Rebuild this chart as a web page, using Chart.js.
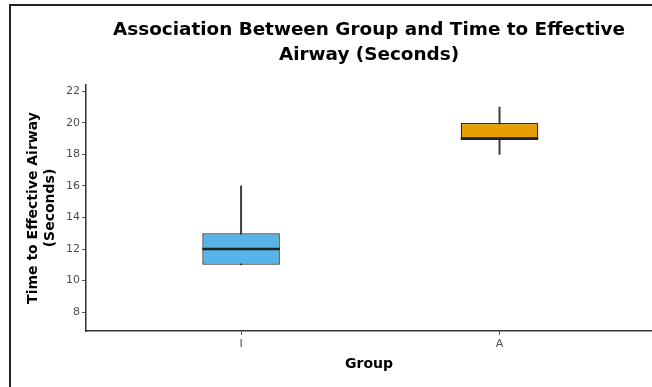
<!DOCTYPE html>
<html>
<head>
<meta charset="utf-8">
<script src="https://cdn.jsdelivr.net/npm/chart.js@4/dist/chart.umd.min.js"></script>
<style>
html,body{margin:0;padding:0;background:#fff;width:652px;height:387px;overflow:hidden;}
#frameTop{position:absolute;left:9px;top:4px;width:643px;height:2px;background:#222;}
#frameLeft{position:absolute;left:9px;top:4px;width:2px;height:383px;background:#222;}
#wrap{position:absolute;left:0;top:0;width:652px;height:387px;}
</style>
</head>
<body>
<div id="frameTop"></div>
<div id="frameLeft"></div>
<div id="wrap"><canvas id="c" width="652" height="387"></canvas></div>
<script>
// ---- data ----
const categories = ['I', 'A'];
const whiskerLow = [11, 18];
const q1 = [11, 19];
const medians = [12, 19];
const q3 = [13, 20];
const whiskerHigh = [16, 21];
const yTicks = [8, 10, 12, 14, 16, 18, 20, 22];

const xPos = categories.map((c, i) => i + 1);

const medianPlugin = {
  id: 'medianLines',
  afterDatasetsDraw(chart) {
    const meta = chart.getDatasetMeta(0);
    const y = chart.scales.y;
    const ctx = chart.ctx;
    ctx.save();
    ctx.strokeStyle = '#222';
    ctx.lineWidth = 2.6;
    meta.data.forEach((el, i) => {
      const py = y.getPixelForValue(medians[i]);
      const half = el.width / 2;
      ctx.beginPath();
      ctx.moveTo(el.x - half, py);
      ctx.lineTo(el.x + half, py);
      ctx.stroke();
    });
    ctx.restore();
  }
};

new Chart(document.getElementById('c'), {
  type: 'bar',
  data: {
    datasets: [
      {
        label: 'box',
        data: xPos.map((x, i) => ({ x: x, y: [q1[i], q3[i]] })),
        backgroundColor: ['#56B4E9', '#E69F00'],
        borderColor: '#2a2a2a',
        borderWidth: 1.3,
        borderSkipped: false,
        barPercentage: 0.3,
        categoryPercentage: 1,
        order: 0
      },
      {
        label: 'whisker',
        data: xPos.map((x, i) => ({ x: x, y: [whiskerLow[i], whiskerHigh[i]] })),
        backgroundColor: '#3a3a3a',
        borderWidth: 0,
        barThickness: 1.3,
        order: 1
      }
    ]
  },
  options: {
    responsive: false,
    animation: false,
    devicePixelRatio: 1,
    datasets: { bar: { grouped: false } },
    layout: { padding: { left: 25, right: 0, top: 8, bottom: 14 } },
    plugins: {
      legend: { display: false },
      tooltip: { enabled: false },
      title: {
        display: true,
        fullSize: false,
        text: ['Association Between Group and Time to Effective', 'Airway (Seconds)'],
        color: '#000',
        font: { family: 'DejaVu Sans', size: 18.4, weight: 'bold', lineHeight: 1.36 },
        padding: { top: 9.5, bottom: 17.5 }
      }
    },
    scales: {
      x: {
        type: 'linear',
        min: 0.4,
        max: 2.59,
        offset: false,
        grid: { display: true, offset: false, drawOnChartArea: false, drawTicks: true, tickLength: 4, tickColor: '#555', lineWidth: 1 },
        border: { display: true, color: '#333', width: 1.5 },
        afterBuildTicks(scale) { scale.ticks = xPos.map(v => ({ value: v })); },
        ticks: {
          callback: (v) => categories[v - 1] || '',
          color: '#4D4D4D',
          font: { family: 'DejaVu Sans', size: 11 },
          padding: 3,
          maxRotation: 0
        },
        title: {
          display: true,
          text: 'Group',
          color: '#000',
          font: { family: 'DejaVu Sans', size: 14, weight: 'bold' },
          padding: { top: 2, bottom: 0 }
        }
      },
      y: {
        min: 6.8,
        max: 22.4,
        afterFit(scale) { scale.width = 61; },
        grid: { display: true, offset: false, drawOnChartArea: false, drawTicks: true, tickLength: 4, tickColor: '#555', lineWidth: 1 },
        border: { display: true, color: '#333', width: 1.5 },
        afterBuildTicks(scale) { scale.ticks = yTicks.map(v => ({ value: v })); },
        ticks: {
          color: '#4D4D4D',
          font: { family: 'DejaVu Sans', size: 11 },
          padding: 2
        },
        title: {
          display: true,
          text: ['Time to Effective Airway', '(Seconds)'],
          color: '#000',
          font: { family: 'DejaVu Sans', size: 14, weight: 'bold', lineHeight: 1.2 },
          padding: { top: 0, bottom: 4 }
        }
      }
    }
  },
  plugins: [medianPlugin]
});
</script>
</body>
</html>
